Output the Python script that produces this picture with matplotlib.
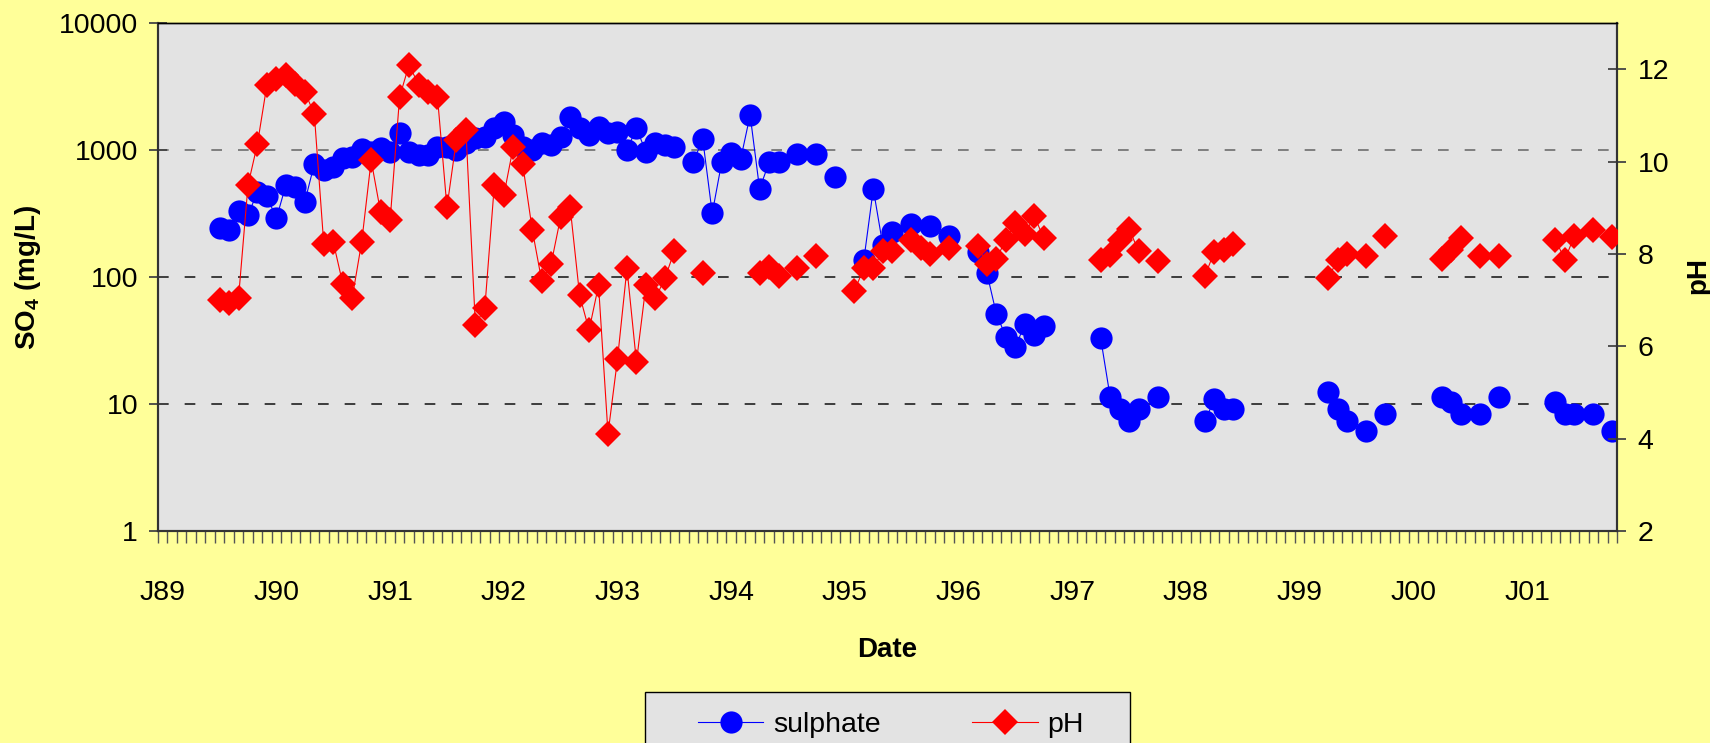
import numpy as np
import pandas as pd
import matplotlib
matplotlib.use('Agg')
import matplotlib.pyplot as plt
from matplotlib.patches import Rectangle
from matplotlib.ticker import NullLocator

plt.rcParams['font.family'] = ['Liberation Sans', 'DejaVu Sans']
plt.rcParams['mathtext.fontset'] = 'custom'
plt.rcParams['mathtext.rm'] = 'Liberation Sans'
plt.rcParams['mathtext.bf'] = 'Liberation Sans:bold'

# ---------------- data ----------------
so4_months = [
    '1989-07', '1989-08', '1989-09', '1989-10', '1989-11', '1989-12',
    '1990-01', '1990-02', '1990-03', '1990-04', '1990-05', '1990-06',
    '1990-07', '1990-08', '1990-09', '1990-10', '1990-11', '1990-12',
    '1991-01', '1991-02', '1991-03', '1991-04', '1991-05', '1991-06',
    '1991-07', '1991-08', '1991-09', '1991-10', '1991-11', '1991-12',
    '1992-01', '1992-02', '1992-03', '1992-04', '1992-05', '1992-06',
    '1992-07', '1992-08', '1992-09', '1992-10', '1992-11', '1992-12',
    '1993-01', '1993-02', '1993-03', '1993-04', '1993-05', '1993-06',
    '1993-07', '1993-09', '1993-10', '1993-11', '1993-12',
    '1994-01', '1994-02', '1994-03', '1994-04', '1994-05', '1994-06',
    '1994-08', '1994-10', '1994-12',
    '1995-03', '1995-04', '1995-05', '1995-06', '1995-08', '1995-10', '1995-12',
    '1996-03', '1996-04', '1996-05', '1996-06', '1996-07', '1996-08',
    '1996-09', '1996-10',
    '1997-04', '1997-05', '1997-06', '1997-07', '1997-08', '1997-10',
    '1998-03', '1998-04', '1998-05', '1998-06',
    '1999-04', '1999-05', '1999-06', '1999-08', '1999-10',
    '2000-04', '2000-05', '2000-06', '2000-08', '2000-10',
    '2001-04', '2001-05', '2001-06', '2001-08', '2001-10',
]
so4_values = [
    242, 236, 330, 310, 465, 432,
    290, 532, 515, 393, 778, 698,
    741, 863, 889, 1022, 972, 1035,
    972, 1358, 972, 916, 916, 1066,
    1066, 1003, 1132, 1240, 1277, 1486,
    1677, 1316, 1066, 1003, 1132, 1098,
    1277, 1836, 1486, 1316, 1530, 1358,
    1400, 1003, 1486, 972, 1132, 1098,
    1066, 811, 1217, 318, 802,
    944, 847, 1892, 494, 802, 802,
    927, 927, 618,
    136, 494, 179, 228, 262, 254, 212,
    157, 107, 51, 34, 28, 43,
    35, 41,
    33, 11.4, 9.1, 7.3, 9.1, 11.3,
    7.3, 10.9, 9.1, 9.1,
    12.5, 9.1, 7.3, 6.1, 8.3,
    11.3, 10.4, 8.3, 8.3, 11.3,
    10.4, 8.3, 8.3, 8.3, 6.1,
]

ph_months = [
    '1989-07', '1989-08', '1989-09', '1989-10', '1989-11', '1989-12',
    '1990-01', '1990-02', '1990-03', '1990-04', '1990-05', '1990-06',
    '1990-07', '1990-08', '1990-09', '1990-10', '1990-11', '1990-12',
    '1991-01', '1991-02', '1991-03', '1991-04', '1991-05', '1991-06',
    '1991-07', '1991-08', '1991-09', '1991-10', '1991-11', '1991-12',
    '1992-01', '1992-02', '1992-03', '1992-04', '1992-05', '1992-06',
    '1992-07', '1992-08', '1992-09', '1992-10', '1992-11', '1992-12',
    '1993-01', '1993-02', '1993-03', '1993-04', '1993-05', '1993-06',
    '1993-07', '1993-10',
    '1994-04', '1994-05', '1994-06', '1994-08', '1994-10',
    '1995-02', '1995-03', '1995-04', '1995-05', '1995-06', '1995-08',
    '1995-09', '1995-10', '1995-12',
    '1996-03', '1996-04', '1996-05', '1996-06', '1996-07', '1996-08',
    '1996-09', '1996-10',
    '1997-04', '1997-05', '1997-06', '1997-07', '1997-08', '1997-10',
    '1998-03', '1998-04', '1998-05', '1998-06',
    '1999-04', '1999-05', '1999-06', '1999-08', '1999-10',
    '2000-04', '2000-05', '2000-06', '2000-08', '2000-10',
    '2001-04', '2001-05', '2001-06', '2001-08', '2001-10',
]
ph_values = [
    7.00, 6.94, 7.05, 9.49, 10.39, 11.67,
    11.80, 11.87, 11.69, 11.51, 11.03, 8.21,
    8.26, 7.36, 7.05, 8.26, 10.03, 8.90,
    8.73, 11.40, 12.10, 11.67, 11.51, 11.40,
    9.01, 10.48, 10.69, 6.46, 6.84, 9.49,
    9.27, 10.32, 9.94, 8.53, 7.42, 7.79,
    8.80, 9.02, 7.11, 6.35, 7.32, 4.11,
    5.72, 7.69, 5.66, 7.32, 7.04, 7.47,
    8.06, 7.58,
    7.58, 7.72, 7.52, 7.69, 7.95,
    7.20, 7.69, 7.69, 8.07, 8.07, 8.31,
    8.12, 8.00, 8.12,
    8.17, 7.79, 7.90, 8.31, 8.67, 8.44,
    8.82, 8.34,
    7.87, 7.97, 8.31, 8.55, 8.06, 7.84,
    7.52, 8.05, 8.08, 8.21,
    7.47, 7.87, 8.01, 7.95, 8.39,
    7.90, 8.08, 8.34, 7.95, 7.95,
    8.31, 7.88, 8.39, 8.53, 8.37,
]

year_labels = ['J89', 'J90', 'J91', 'J92', 'J93', 'J94', 'J95',
               'J96', 'J97', 'J98', 'J99', 'J00', 'J01']
left_ticks = [1, 10, 100, 1000, 10000]
right_ticks = [2, 4, 6, 8, 10, 12]
grid_values = [10, 100, 1000]

# monthly grid (missing months -> gaps in the lines, as in the original)
full = pd.period_range('1989-01', '2001-10', freq='M')
so4 = pd.Series(so4_values, index=pd.PeriodIndex(so4_months, freq='M')).reindex(full)
ph = pd.Series(ph_values, index=pd.PeriodIndex(ph_months, freq='M')).reindex(full)
xm = np.arange(len(full))

# ---------------- figure ----------------
W, H = 1710, 743
TICK_FS = 20.5
fig = plt.figure(figsize=(W / 100, H / 100), dpi=100, facecolor='#FFFF99')
ax = fig.add_axes([158 / W, 1 - 531 / H, 1459 / W, 507.8 / H])
ax.set_facecolor('#E3E3E3')
ax2 = ax.twinx()

l1, = ax.plot(xm, so4.values, color='#0000FF', lw=0.8, marker='o', ms=16,
              mew=0, mfc='#0000FF', zorder=3)
l2, = ax2.plot(xm, ph.values, color='#FF0000', lw=0.8, marker='D', ms=13.5,
               mew=0, mfc='#FF0000', zorder=3)

ax.set_xlim(-0.5, len(full) - 0.5)
ax.set_yscale('log')
ax.set_ylim(1, 10000)
ax2.set_ylim(2, 13)

for v, c in zip(grid_values, ['#202020', '#202020', '#6E6E6E']):
    ax.axhline(v, color=c, lw=1.2, linestyle=(0, (6.4, 9.6)), zorder=1)

ax.set_yticks(left_ticks)
ax.set_yticklabels([str(t) for t in left_ticks])
ax.yaxis.set_minor_locator(NullLocator())
ax.set_xticks(np.arange(0, len(full), 12))
ax.set_xticklabels(year_labels)
ax.set_xticks(np.arange(-0.5, len(full), 1), minor=True)
ax.tick_params(axis='x', which='major', length=0, pad=35, labelsize=TICK_FS)
ax.tick_params(axis='x', which='minor', length=8.6, width=1, color='#555555',
               direction='out')
ax.tick_params(axis='y', which='major', direction='inout', length=12.7,
               width=1.3, color='#444444', labelsize=TICK_FS, pad=8)
ax2.set_yticks(right_ticks)
ax2.set_yticklabels([str(t) for t in right_ticks])
ax2.yaxis.set_minor_locator(NullLocator())
ax2.tick_params(axis='y', which='major', direction='inout', length=13.5,
                width=1.3, color='#444444', labelsize=TICK_FS, pad=8)

for a in (ax, ax2):
    for name, s in a.spines.items():
        s.set_color('#000000' if name == 'top' else '#333333')
        s.set_linewidth(1.0 if name == 'top' else 1.5)

fig.text(28 / W, 1 - 277 / H, r'SO$_\mathbf{4}$ (mg/L)', rotation=90,
         ha='center', va='center', fontsize=20, fontweight='bold')
fig.text(1698 / W, 1 - 275 / H, 'pH', rotation=90, ha='center', va='center',
         fontsize=20, fontweight='bold')
fig.text(887 / W, 1 - 650 / H, 'Date', ha='center', va='center',
         fontsize=20, fontweight='bold')

fig.add_artist(Rectangle((645 / W, 1 - 775 / H), 485 / W, 83 / H,
                         transform=fig.transFigure, facecolor='#E3E3E3',
                         edgecolor='black', lw=1.0))
fig.legend(handles=[l1, l2], labels=['sulphate', 'pH'], loc='center',
           bbox_to_anchor=(891 / W, 1 - 725 / H), ncol=2, frameon=False,
           fontsize=TICK_FS, handlelength=2.3, handletextpad=0.35,
           columnspacing=3.2)

fig.savefig('out.png', dpi=100, facecolor=fig.get_facecolor())
